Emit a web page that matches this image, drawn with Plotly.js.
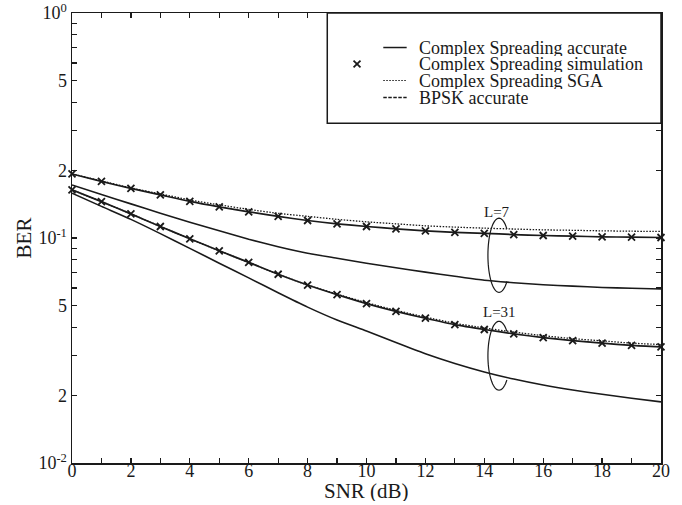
<!DOCTYPE html>
<html>
<head>
<meta charset="utf-8">
<script src="https://cdn.plot.ly/plotly-3.0.1.min.js"></script>
<style>
  html, body { margin: 0; padding: 0; background: #ffffff; }
  #chart { width: 682px; height: 505px; }
</style>
</head>
<body>
<div id="chart"></div>
<script>
// ---- data ----
const snr = [0,1,2,3,4,5,6,7,8,9,10,11,12,13,14,15,16,17,18,19,20];

// L = 7
const csAccL7 = [0.1926,0.1784,0.1661,0.1554,0.1454,0.1375,0.1307,0.1248,0.1196,0.1156,0.1125,0.1098,0.1076,0.1060,0.1049,0.1036,0.1026,0.1019,0.1012,0.1009,0.1005];
const csSimL7 = [0.1926,0.1784,0.1661,0.1554,0.1454,0.1375,0.1307,0.1248,0.1196,0.1156,0.1125,0.1098,0.1076,0.1060,0.1049,0.1036,0.1026,0.1019,0.1012,0.1009,0.1005];
const csSgaL7 = [0.1926,0.1794,0.1669,0.1570,0.1477,0.1404,0.1340,0.1287,0.1248,0.1210,0.1180,0.1156,0.1133,0.1118,0.1106,0.1096,0.1087,0.1082,0.1076,0.1072,0.1069];
const bpskL7  = [0.1721,0.1562,0.1418,0.1289,0.1174,0.1076,0.0987,0.0914,0.0855,0.0813,0.0772,0.0738,0.0705,0.0676,0.0649,0.0633,0.0620,0.0611,0.0603,0.0598,0.0593];

// L = 31
const csAccL31 = [0.1636,0.1451,0.1280,0.1125,0.0992,0.0877,0.0779,0.0690,0.0618,0.0560,0.0511,0.0472,0.0440,0.0412,0.0392,0.0375,0.0361,0.0350,0.0341,0.0333,0.0328];
const csSimL31 = [0.1636,0.1451,0.1280,0.1125,0.0992,0.0877,0.0779,0.0690,0.0618,0.0560,0.0511,0.0472,0.0440,0.0412,0.0392,0.0375,0.0361,0.0350,0.0341,0.0333,0.0328];
const csSgaL31 = [0.1636,0.1451,0.1280,0.1125,0.0992,0.0877,0.0779,0.0690,0.0618,0.0563,0.0516,0.0477,0.0445,0.0418,0.0398,0.0382,0.0368,0.0357,0.0349,0.0341,0.0336];
const bpskL31  = [0.1582,0.1382,0.1210,0.1046,0.0899,0.0773,0.0665,0.0571,0.0493,0.0432,0.0386,0.0343,0.0306,0.0277,0.0254,0.0236,0.0222,0.0211,0.0202,0.0194,0.0187];

// ticks
const xTickVals = [0,2,4,6,8,10,12,14,16,18,20];
const xTickText = ['0','2','4','6','8','10','12','14','16','18','20'];
const xMinorVals = [1,3,5,7,9,11,13,15,17,19];
const yTickVals = [0.01,0.02,0.05,0.1,0.2,0.5,1];
const yTickText = ['10<sup>-2</sup>','2','5','10<sup>-1</sup>','2','5','10<sup>0</sup>'];
const yMinorVals = [0.03,0.04,0.06,0.07,0.08,0.09,0.3,0.4,0.6,0.7,0.8,0.9];

// legend labels
const legendNames = ['Complex Spreading accurate','Complex Spreading simulation','Complex Spreading SGA','BPSK accurate'];

// ---- style ----
const INK = '#1a1a1a';
const FONT = 'Liberation Serif, Times New Roman, serif';

function lineTrace(y, name, dash, width) {
  return { x: snr, y: y, name: name, type: 'scatter', mode: 'lines',
           line: { color: INK, width: width, dash: dash, shape: 'spline', smoothing: 0.6 },
           showlegend: false, hoverinfo: 'skip' };
}
function simTrace(y, name) {
  return { x: snr, y: y, name: name, type: 'scatter', mode: 'markers', cliponaxis: false,
           marker: { symbol: 'x-thin', size: 7, color: INK, line: { color: INK, width: 1.8 } },
           showlegend: false, hoverinfo: 'skip' };
}

const traces = [
  lineTrace(bpskL7, legendNames[3] + ' L=7', 'solid', 1.6),
  lineTrace(bpskL31, legendNames[3] + ' L=31', 'solid', 1.6),
  lineTrace(csSgaL7, legendNames[2] + ' L=7', '1.5px,1.5px', 1.3),
  lineTrace(csSgaL31, legendNames[2] + ' L=31', '1.5px,1.5px', 1.3),
  lineTrace(csAccL7, legendNames[0] + ' L=7', 'solid', 1.7),
  lineTrace(csAccL31, legendNames[0] + ' L=31', 'solid', 1.7),
  simTrace(csSimL7, legendNames[1] + ' L=7'),
  simTrace(csSimL31, legendNames[1] + ' L=31')
];

// ---- decorations: C-shaped ellipses around each pair of curves ----
function cPath(cx, cy, rx, ry) {
  let d = '';
  for (let a = 45; a <= 315; a += 5) {
    const t = a * Math.PI / 180;
    const px = cx + rx * Math.cos(t);
    const py = cy + ry * Math.sin(t);
    d += (a === 45 ? 'M' : 'L') + px.toFixed(4) + ',' + py.toFixed(4);
  }
  return d;
}

const shapes = [
  { type: 'path', xref: 'x', yref: 'paper', path: cPath(14.5, 0.4616, 0.377, 0.0825),
    line: { color: INK, width: 1.2 } },
  { type: 'path', xref: 'x', yref: 'paper', path: cPath(14.5, 0.2384, 0.377, 0.0765),
    line: { color: INK, width: 1.2 } },
  // legend box
  { type: 'rect', xref: 'paper', yref: 'paper', x0: 0.4334, x1: 1, y0: 0.7549, y1: 1,
    line: { color: INK, width: 1.5 }, fillcolor: 'rgba(255,255,255,1)', layer: 'above' }
];

// legend rows (paper coords)
const rowY = [0.9233, 0.8867, 0.8500, 0.8122];
const sx0 = 0.5285, sx1 = 0.5682, tx = 0.5852;
shapes.push({ type: 'line', xref: 'paper', yref: 'paper', x0: sx0, x1: sx1, y0: rowY[0], y1: rowY[0], line: { color: INK, width: 1.5 }, layer: 'above' });
shapes.push({ type: 'line', xref: 'paper', yref: 'paper', x0: 0.4780, x1: 0.4898, y0: rowY[1] - 0.0075, y1: rowY[1] + 0.0075, line: { color: INK, width: 1.8 }, layer: 'above' });
shapes.push({ type: 'line', xref: 'paper', yref: 'paper', x0: 0.4780, x1: 0.4898, y0: rowY[1] + 0.0075, y1: rowY[1] - 0.0075, line: { color: INK, width: 1.8 }, layer: 'above' });
shapes.push({ type: 'line', xref: 'paper', yref: 'paper', x0: sx0, x1: sx1, y0: rowY[2], y1: rowY[2], line: { color: INK, width: 1.2, dash: '1.5px,1.5px' }, layer: 'above' });
shapes.push({ type: 'line', xref: 'paper', yref: 'paper', x0: sx0, x1: sx1, y0: rowY[3], y1: rowY[3], line: { color: INK, width: 1.5, dash: '3.5px,1.5px' }, layer: 'above' });

const annotations = legendNames.map((n, i) => ({
  xref: 'paper', yref: 'paper', x: tx, y: rowY[i], xanchor: 'left', yanchor: 'middle',
  height: 16, valign: 'middle',
  text: n, showarrow: false, font: { family: FONT, size: 18, color: INK }
}));
annotations.push({ xref: 'x', yref: 'y', x: 14.43, y: -0.8838, text: 'L=7', showarrow: false,
  font: { family: FONT, size: 15, color: INK } });
annotations.push({ xref: 'x', yref: 'y', x: 14.53, y: -1.3295, text: 'L=31', showarrow: false,
  font: { family: FONT, size: 15, color: INK } });
// x-axis title
annotations.push({ xref: 'paper', yref: 'paper', x: 0.5, y: -0.062, xanchor: 'center', yanchor: 'middle',
  height: 20, valign: 'middle',
  text: 'SNR (dB)', showarrow: false, font: { family: FONT, size: 21, color: INK } });

const axisCommon = {
  showline: true, linecolor: INK, linewidth: 1.5, mirror: 'ticks',
  ticks: 'inside', ticklen: 5, tickwidth: 1.2, tickcolor: INK,
  showgrid: false, zeroline: false,
  tickfont: { family: FONT, size: 18, color: INK }
};

const layout = {
  width: 682, height: 505,
  margin: { l: 72, r: 21, t: 13, b: 42 },
  paper_bgcolor: '#ffffff', plot_bgcolor: '#ffffff',
  showlegend: false,
  xaxis: Object.assign({}, axisCommon, {
    range: [0, 20], tickmode: 'array', tickvals: xTickVals, ticktext: xTickText,
    ticklabelstandoff: -9,
    minor: { tickmode: 'array', tickvals: xMinorVals, ticks: 'inside', ticklen: 5, tickwidth: 1.2, tickcolor: INK, showgrid: false }
  }),
  yaxis: Object.assign({}, axisCommon, {
    type: 'log', range: [-2, 0], tickmode: 'array', tickvals: yTickVals, ticktext: yTickText,
    minor: { tickmode: 'array', tickvals: yMinorVals, ticks: 'inside', ticklen: 5, tickwidth: 1.2, tickcolor: INK, showgrid: false },
    title: { text: 'BER', font: { family: FONT, size: 21, color: INK }, standoff: 1 }
  }),
  shapes: shapes,
  annotations: annotations
};

Plotly.newPlot('chart', traces, layout, { displayModeBar: false, staticPlot: true });
</script>
</body>
</html>
